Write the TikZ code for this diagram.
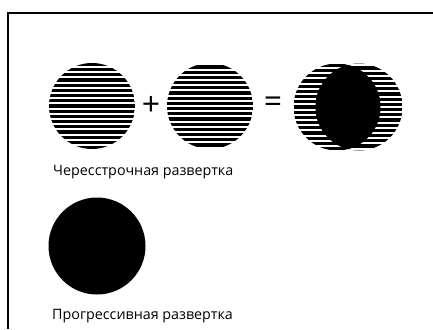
\documentclass[tikz,border=0pt]{standalone}
\usepackage{fontspec}
\setmainfont{Open Sans}
\usepackage{tikz}
\usetikzlibrary{positioning}
\tikzstyle{frame}=[line width=1.6pt]
\tikzstyle{solid disc}=[circle, fill=black, inner sep=0pt, minimum size=97pt]
\tikzstyle{sign}=[inner sep=0pt, font=\fontsize{32}{32}\selectfont]
\tikzstyle{caption}=[anchor=base west, inner sep=0pt, font=\fontsize{14.3}{16}\selectfont]
\tikzset{striped/.style={circle, inner sep=0pt, minimum size=86pt,
        path picture={
            \foreach \k in {-10,...,10}
                \draw[line width=3.2pt]
                    ([yshift=\k*5.2pt+#1]path picture bounding box.west) --
                    ([yshift=\k*5.2pt+#1]path picture bounding box.east);
        }},
        striped/.default=0pt}

\begin{document}
\begin{tikzpicture}[x=1pt, y=-1pt]
	\useasboundingbox (0,0) rectangle (433,329);

	% frame, only top and left edges are visible
	\coordinate (TopLeft) at (8,13);
	\coordinate (TopRight) at (433,13);
	\coordinate (BottomLeft) at (8,329);
	\draw[frame] (TopRight) -- (TopLeft) -- (BottomLeft);

	% interlaced scan
	\node (OddField) [striped] at (92,106) {};
	\node (Plus) [sign] at (151,106) {+};
	\node (EvenField) [striped=2.6pt] at (210,106) {};
	\node (Equals) [sign] at (273,105) {=};

	\node (LeftField) [striped, minimum size=87pt] at (337,107) {};
	\node (RightField) [striped=2.6pt, minimum size=87pt] at (359,107) {};
	\begin{scope}
		\clip (LeftField.center) circle (43.5pt);
		\fill (RightField.center) circle (43.5pt);
	\end{scope}

	\node (Interlaced) [caption] at (53,175) {Чересстрочная развертка};

	% progressive scan
	\node (FullFrame) [solid disc] at (97,246) {};

	\node (Progressive) [caption] at (52,319) {Прогрессивная развертка};

\end{tikzpicture}
\end{document}
